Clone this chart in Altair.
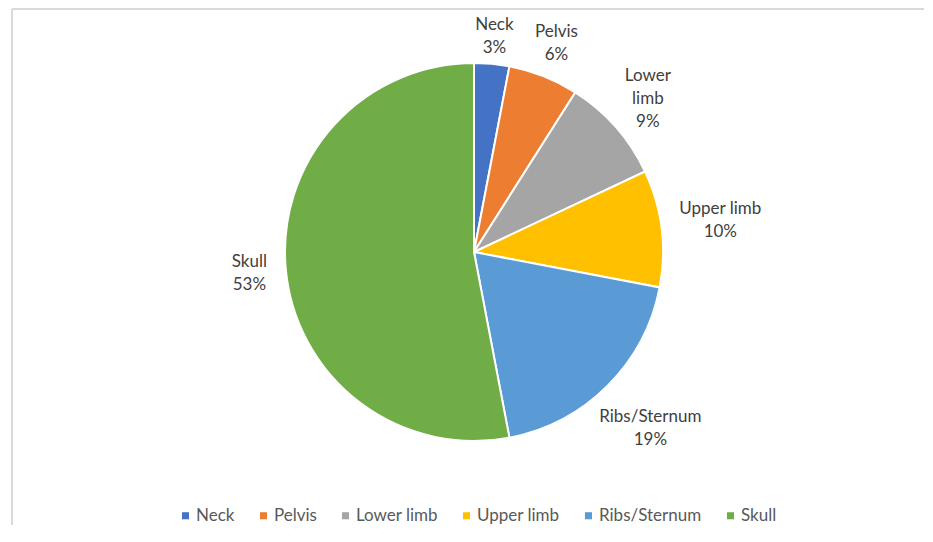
import math
import altair as alt
import pandas as pd

categories = ["Neck", "Pelvis", "Lower limb", "Upper limb", "Ribs/Sternum", "Skull"]
values = [3, 6, 9, 10, 19, 53]
label_text = ["Neck", "Pelvis", "Lower\nlimb", "Upper limb", "Ribs/Sternum", "Skull"]
colors = ["#4472C4", "#ED7D31", "#A5A5A5", "#FFC000", "#5B9BD5", "#70AD47"]

FONT = "Lato"
FS = 17
LH = 23
PIE_R = 189

# cumulative start/end of each slice, and a label anchor that places the
# label box just outside the pie (like Excel "outside end")
rows = []
total = sum(values)
cum = 0
for i, (c, v, lt) in enumerate(zip(categories, values, label_text)):
    start, end = cum, cum + v
    mid = (start + end) / 2 / total * 2 * math.pi
    cum = end
    full = f"{lt}\n{v}%"
    lines = full.split("\n")
    hw = max(len(s) for s in lines) * 4.5
    hh = len(lines) * 6.5
    r = 202 + hw * abs(math.sin(mid)) + hh * abs(math.cos(mid))
    cx, cy = r * math.sin(mid), -r * math.cos(mid)
    # the first line is drawn at the anchor; shift so the block is centred
    ay = cy - (len(lines) - 1) * LH / 2
    rows.append({"idx": i, "cat": c, "value": v, "start": start, "end": end,
                 "label": full,
                 "lab_theta": math.atan2(cx, -ay) % (2 * math.pi),
                 "lab_r": math.hypot(cx, ay)})
df = pd.DataFrame(rows)

theta_scale = alt.Scale(domain=[0, total], range=[0, 2 * math.pi])

arcs = alt.Chart(df).mark_arc(outerRadius=PIE_R, stroke="white", strokeWidth=2).encode(
    theta=alt.Theta("start:Q", scale=theta_scale),
    theta2="end:Q",
    color=alt.Color(
        "cat:N",
        scale=alt.Scale(domain=categories, range=colors),
        sort=categories,
        legend=alt.Legend(
            title=None,
            orient="none",
            legendX=153,
            legendY=498,
            direction="horizontal",
            symbolType="square",
            symbolSize=50,
            symbolStrokeWidth=0,
            labelFont=FONT,
            labelFontSize=FS,
            labelColor="#595959",
            labelOffset=2,
            columnPadding=20,
            labelLimit=300,
        ),
    ),
)

labels = alt.Chart(df).mark_text(
    font=FONT, fontSize=FS, color="#404040", lineBreak="\n", lineHeight=LH,
    align="center", baseline="middle",
).encode(
    theta=alt.Theta("lab_theta:Q", scale=None),
    radius=alt.Radius("lab_r:Q", scale=None),
    text="label:N",
)

border_df = pd.DataFrame({"a": [0]})
top_border = alt.Chart(border_df).mark_rule(color="#d9d9d9", strokeWidth=2).encode(
    x=alt.value(-12), x2=alt.value(960), y=alt.value(0)
)
left_border = alt.Chart(border_df).mark_rule(color="#d9d9d9", strokeWidth=2).encode(
    x=alt.value(-12), y=alt.value(0), y2=alt.value(700)
)

chart = alt.layer(top_border, left_border, arcs, labels).properties(
    width=900,
    height=486,
    padding={"left": 16, "top": 1, "right": 0, "bottom": 30},
    autosize=alt.AutoSizeParams(type="none"),
    background="white",
).configure_view(stroke=None)

chart.save("out.html", embed_options={"renderer": "svg", "actions": False})
